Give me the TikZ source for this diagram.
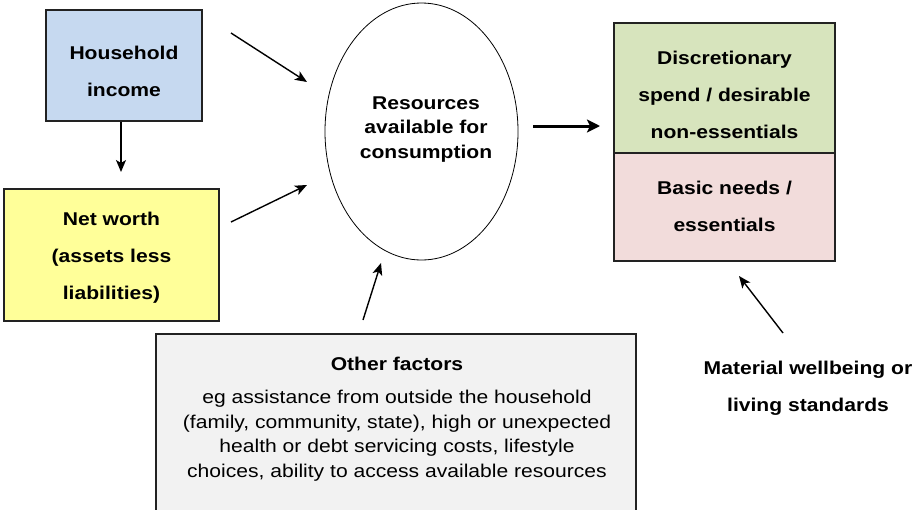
\documentclass[tikz,border=0pt]{standalone}
\usepackage{fontspec}
\setmainfont{Liberation Sans}[FakeStretch=1.14]
\usetikzlibrary{shapes.geometric,arrows.meta}
\definecolor{hiblue}{HTML}{C6D9F0}
\definecolor{nwyellow}{HTML}{FFFF99}
\definecolor{dsgreen}{HTML}{D7E4BD}
\definecolor{bnpink}{HTML}{F2DCDB}
\definecolor{ofgray}{HTML}{F2F2F2}
\definecolor{edge}{HTML}{222222}
\tikzset{
  boxstyle/.style={draw=edge, line width=1.3pt, inner sep=0pt},
  lbl/.style={align=center, inner sep=0pt, font=\fontsize{18.5}{37}\selectfont\bfseries},
  arr/.style={line width=1.4pt, -{Stealth[length=12pt,width=10pt,inset=3pt]}},
  thickarr/.style={line width=3pt, -{Stealth[length=13pt,width=13pt,inset=3pt]}}
}
\begin{document}
\begin{tikzpicture}[x=1pt,y=-1pt]
\useasboundingbox (0,0) rectangle (912,509);
\clip (0,0) rectangle (912,509);
% boxes
\node[boxstyle, fill=hiblue, minimum width=156pt, minimum height=111pt] (hi) at (124,65.5) {};
\node[lbl] (hitxt) at (124,71.5) {Household\\income};
\node[boxstyle, fill=nwyellow, minimum width=215pt, minimum height=132pt] (nw) at (111.5,255) {};
\node[lbl] (nwtxt) at (111.5,257.5) {Net worth\\(assets less\\liabilities)};
\node[draw=black, line width=0.8pt, ellipse, minimum width=193pt, minimum height=257pt, inner sep=0pt] (res) at (421.5,131.5) {};
\node[lbl, font=\fontsize{18.5}{24.5}\selectfont\bfseries] (restxt) at (426,129.5) {Resources\\available for\\consumption};
\node[boxstyle, fill=dsgreen, minimum width=221pt, minimum height=130pt] (ds) at (724.5,88) {};
\node[lbl] (dstxt) at (724.5,94.5) {Discretionary\\spend / desirable\\non-essentials};
\node[boxstyle, fill=bnpink, minimum width=221pt, minimum height=108pt] (bn) at (724.5,207) {};
\node[lbl] (bntxt) at (724.5,206.5) {Basic needs /\\essentials};
\node[boxstyle, fill=ofgray, minimum width=480pt, minimum height=200pt] (of) at (396,434) {};
\node[lbl] (oftitle) at (397,364) {Other factors};
\node[align=center, inner sep=0pt, font=\fontsize{18.5}{24.5}\selectfont] (ofbody) at (397,435.5)
  {eg assistance from outside the household\\(family, community, state), high or unexpected\\health or debt servicing costs, lifestyle\\choices, ability to access available resources};
\node[lbl] (mat) at (808,388.5) {Material wellbeing or\\living standards};
% arrow end points
\coordinate (a1s) at (231,33);  \coordinate (a1e) at (307,82);
\coordinate (a2s) at (231,222); \coordinate (a2e) at (307,185);
\coordinate (a3s) at (533,126); \coordinate (a3e) at (600,126);
\coordinate (a4s) at (363,320); \coordinate (a4e) at (381,263);
\coordinate (a5s) at (783,333); \coordinate (a5e) at (739,276);
\coordinate (a6e) at (121,172);
% arrows
\draw[arr] (hi.south -| a6e) -- (a6e);
\draw[arr] (a1s) -- (a1e);
\draw[arr] (a2s) -- (a2e);
\draw[thickarr] (a3s) -- (a3e);
\draw[arr] (a4s) -- (a4e);
\draw[arr] (a5s) -- (a5e);
\end{tikzpicture}
\end{document}
